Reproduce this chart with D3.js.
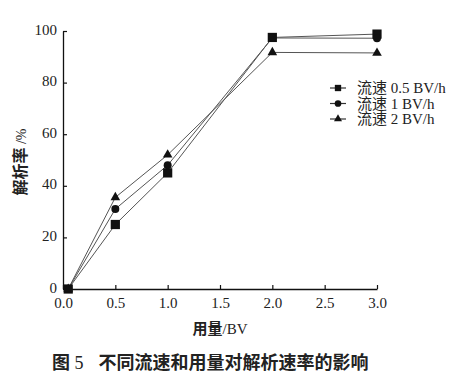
<!DOCTYPE html>
<html>
<head>
<meta charset="utf-8">
<script src="https://cdn.jsdelivr.net/npm/d3@7"></script>
<style>
  body { margin: 0; background: #fff; }
  text { font-family: "Liberation Serif", "Noto Sans CJK SC", serif; fill: #222; }
  .cjk { font-family: "Noto Sans CJK SC", sans-serif; }
</style>
</head>
<body>
<svg id="chart" width="470" height="384"></svg>
<script>
// dosage (BV)
const dosage = [0.05, 0.5, 1.0, 2.0, 3.0];
const series = [
  { name: "流速 0.5 BV/h", symbol: "square", values: [0, 25, 45, 97.5, 98.8] },
  { name: "流速 1 BV/h", symbol: "circle", values: [0, 31, 48, 97.3, 97.2] },
  { name: "流速 2 BV/h", symbol: "triangle", values: [0, 35.5, 52, 91.7, 91.5] }
];
const xTicks = [0, 0.5, 1.0, 1.5, 2.0, 2.5, 3.0];
const yTicks = [0, 20, 40, 60, 80, 100];

const svg = d3.select("#chart");
const margin = { left: 63, right: 93, top: 31, bottom: 95 };
const width = 470 - margin.left - margin.right;
const height = 384 - margin.top - margin.bottom;

const x = d3.scaleLinear().domain([0, 3]).range([0, width]);
const y = d3.scaleLinear().domain([0, 100]).range([height, 0]);

const g = svg.append("g").attr("transform", `translate(${margin.left},${margin.top})`);

// axes, ticks point inward
const xAxis = g.append("g")
  .attr("transform", `translate(0,${height})`)
  .call(d3.axisBottom(x).tickValues(xTicks).tickFormat(d3.format(".1f")).tickSizeInner(-4).tickSizeOuter(0).tickPadding(8));
const yAxis = g.append("g")
  .call(d3.axisLeft(y).tickValues(yTicks).tickSizeInner(-4).tickSizeOuter(0).tickPadding(6));

[xAxis, yAxis].forEach(a => {
  a.select(".domain").attr("stroke", "#111").attr("stroke-width", 1.3);
  a.selectAll(".tick line").attr("stroke", "#111").attr("stroke-width", 1.2);
  a.selectAll(".tick text").attr("font-size", 15).attr("font-family", "Liberation Serif").attr("fill", "#222");
});
// lift y labels a touch, as in the print
yAxis.selectAll(".tick text").attr("dy", "0.2em");

const symbolFor = {
  square: d3.symbol().type(d3.symbolSquare).size(85),
  circle: d3.symbol().type(d3.symbolCircle).size(50),
  triangle: d3.symbol().type(d3.symbolTriangle).size(40)
};

const line = d3.line().x((d, i) => x(dosage[i])).y(d => y(d));

series.forEach(s => {
  g.append("path")
    .datum(s.values)
    .attr("fill", "none")
    .attr("stroke", "#555")
    .attr("stroke-width", 1)
    .attr("d", line);
});

series.forEach(s => {
  g.selectAll(null)
    .data(s.values)
    .join("path")
    .attr("transform", (d, i) => `translate(${x(dosage[i])},${y(d)})`)
    .attr("d", symbolFor[s.symbol]())
    .attr("fill", "#111");
});

// legend
const legendSym = {
  square: d3.symbol().type(d3.symbolSquare).size(40),
  circle: d3.symbol().type(d3.symbolCircle).size(35),
  triangle: d3.symbol().type(d3.symbolTriangle).size(28)
};
const legend = svg.append("g").attr("transform", "translate(330,88)");
series.forEach((s, i) => {
  const row = legend.append("g").attr("transform", `translate(0,${i * 15.5})`);
  row.append("line").attr("x1", 0).attr("x2", 16).attr("stroke", "#333").attr("stroke-width", 1.2);
  row.append("path").attr("transform", "translate(8,0)").attr("d", legendSym[s.symbol]()).attr("fill", "#111");
  row.append("text").attr("x", 27).attr("dy", "0.35em").attr("font-size", 15).text(s.name);
});

// axis titles
svg.append("text")
  .attr("transform", "translate(26,162) rotate(-90)")
  .attr("text-anchor", "middle")
  .attr("font-size", 16)
  .html('<tspan class="cjk" font-weight="bold">解析率</tspan><tspan font-size="14"> /%</tspan>');

svg.append("text")
  .attr("x", 220).attr("y", 334)
  .attr("text-anchor", "middle")
  .attr("font-size", 15)
  .html('<tspan class="cjk" font-weight="bold">用量</tspan><tspan>/BV</tspan>');

// caption
svg.append("text")
  .attr("x", 52).attr("y", 369)
  .attr("font-size", 18)
  .html('<tspan class="cjk" font-weight="bold">图</tspan><tspan> 5</tspan><tspan class="cjk" font-weight="bold" dx="15">不同流速和用量对解析速率的影响</tspan>');
</script>
</body>
</html>
